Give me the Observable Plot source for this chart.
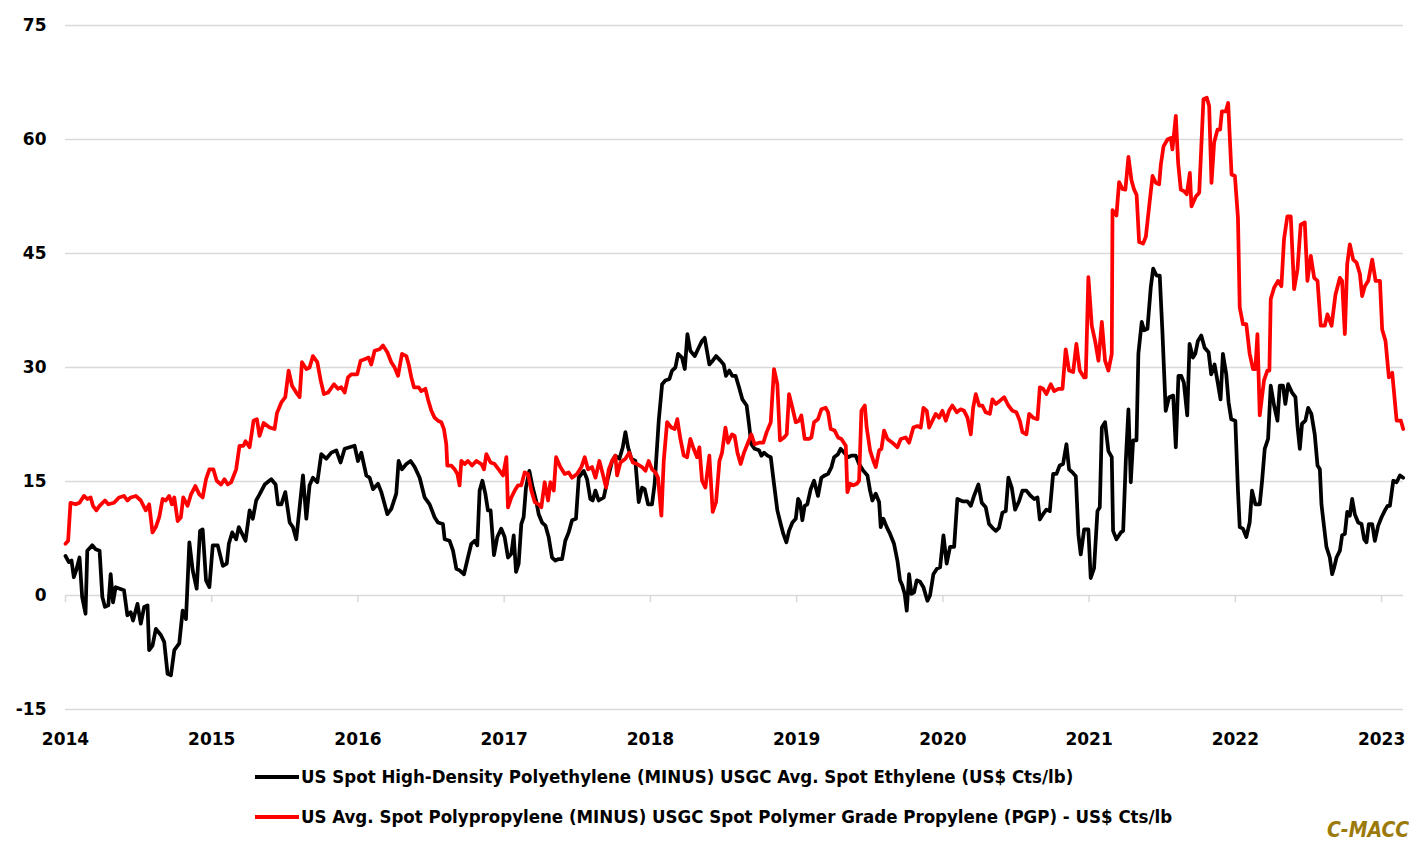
<!DOCTYPE html>
<html>
<head>
<meta charset="utf-8">
<script src="https://cdn.jsdelivr.net/npm/d3@7"></script>
<script src="https://cdn.jsdelivr.net/npm/@observablehq/plot@0.6"></script>
<style>
  html, body { margin: 0; padding: 0; background: #fff; }
  body { width: 1425px; height: 849px; position: relative; overflow: hidden; }
  #chart { position: absolute; left: 0; top: 0; }
  .leg { position: absolute; left: 255px; display: flex; align-items: center; white-space: nowrap;
         font-family: "Liberation Sans Narrow", "DejaVu Sans Condensed", sans-serif; font-weight: bold;
         font-size: 18.5px; color: #000; }
  .sw { display: inline-block; width: 44px; height: 4px; margin-right: 2px; }
  #src { position: absolute; left: 1327px; top: 818px; font-family: "Liberation Sans Narrow", "DejaVu Sans Condensed", sans-serif;
         font-style: italic; font-weight: bold; font-size: 21px; color: #9C7A0A; }
</style>
</head>
<body>
<div id="chart"></div>
<div id="legend"></div>
<div id="src"></div>
<script>
const seriesNames = [
  "US Spot High-Density Polyethylene (MINUS) USGC Avg. Spot Ethylene (US$ Cts/lb)",
  "US Avg. Spot Polypropylene (MINUS) USGC Spot Polymer Grade Propylene (PGP) - US$ Cts/lb"
];
const seriesColors = ["#000000", "#ff0000"];
const sourceLabel = "C-MACC";
const xTicks = [2014, 2015, 2016, 2017, 2018, 2019, 2020, 2021, 2022, 2023];
const yTicks = [-15, 0, 15, 30, 45, 60, 75];

// [decimal year, US cts/lb]
const hdpeSpread = [
[2014.000,5.2],[2014.023,4.4],[2014.041,4.6],[2014.057,2.4],[2014.073,3.3],[2014.096,5.0],[2014.114,-0.2],[2014.137,-2.4],
[2014.149,5.9],[2014.183,6.6],[2014.206,6.1],[2014.233,5.9],[2014.252,-0.2],[2014.270,-1.5],[2014.293,-1.3],[2014.309,2.8],
[2014.325,-0.9],[2014.343,1.1],[2014.371,0.9],[2014.400,0.7],[2014.423,-2.6],[2014.446,-2.2],[2014.462,-3.3],[2014.492,-1.1],
[2014.515,-3.7],[2014.538,-1.5],[2014.561,-1.3],[2014.572,-7.2],[2014.595,-6.6],[2014.618,-4.4],[2014.652,-5.2],[2014.675,-6.1],
[2014.698,-10.3],[2014.721,-10.5],[2014.744,-7.2],[2014.778,-6.3],[2014.801,-2.0],[2014.824,-3.1],[2014.847,7.0],[2014.870,3.3],
[2014.897,0.9],[2014.920,8.5],[2014.938,8.7],[2014.961,2.0],[2014.984,1.1],[2015.007,6.6],[2015.041,6.6],[2015.076,3.9],
[2015.103,4.2],[2015.117,6.8],[2015.140,8.3],[2015.167,7.4],[2015.185,9.0],[2015.208,8.1],[2015.231,7.2],[2015.259,11.2],
[2015.281,10.1],[2015.304,12.5],[2015.327,13.3],[2015.362,14.6],[2015.407,15.3],[2015.437,14.6],[2015.453,12.0],[2015.476,12.0],
[2015.503,13.6],[2015.533,9.6],[2015.555,9.0],[2015.578,7.4],[2015.601,11.6],[2015.624,15.8],[2015.647,10.1],[2015.669,14.5],
[2015.692,15.5],[2015.722,14.9],[2015.749,18.6],[2015.783,18.0],[2015.818,18.8],[2015.852,19.1],[2015.881,17.5],[2015.909,19.3],
[2015.943,19.5],[2015.977,19.7],[2016.000,17.7],[2016.023,18.8],[2016.057,15.8],[2016.080,15.5],[2016.103,14.0],[2016.137,14.7],
[2016.160,13.6],[2016.201,10.7],[2016.228,11.4],[2016.262,13.4],[2016.278,17.7],[2016.301,16.6],[2016.331,17.3],[2016.360,17.7],
[2016.388,16.9],[2016.422,15.5],[2016.456,12.9],[2016.490,12.0],[2016.524,10.3],[2016.547,9.6],[2016.581,9.4],[2016.593,7.4],
[2016.627,7.2],[2016.650,5.9],[2016.673,3.5],[2016.695,3.3],[2016.725,2.8],[2016.752,5.0],[2016.775,6.8],[2016.798,7.2],
[2016.816,6.6],[2016.832,13.8],[2016.851,15.1],[2016.871,13.4],[2016.889,11.2],[2016.907,11.2],[2016.930,5.3],[2016.953,7.7],
[2016.980,8.8],[2017.003,7.7],[2017.026,5.0],[2017.049,5.5],[2017.065,7.9],[2017.081,3.1],[2017.099,4.2],[2017.117,9.4],
[2017.133,10.3],[2017.149,14.2],[2017.172,16.4],[2017.195,14.2],[2017.218,12.5],[2017.236,10.7],[2017.259,9.6],[2017.282,9.2],
[2017.304,7.7],[2017.327,5.0],[2017.350,4.6],[2017.373,4.8],[2017.396,4.8],[2017.418,7.2],[2017.441,8.3],[2017.464,9.9],
[2017.491,10.1],[2017.510,15.5],[2017.544,16.4],[2017.567,15.3],[2017.589,12.7],[2017.605,12.5],[2017.624,13.8],[2017.646,12.5],
[2017.681,12.9],[2017.710,15.5],[2017.738,17.7],[2017.760,18.4],[2017.788,18.0],[2017.811,19.5],[2017.829,21.5],[2017.847,19.5],
[2017.870,18.0],[2017.897,17.7],[2017.920,12.3],[2017.943,14.2],[2017.961,14.0],[2017.984,12.0],[2018.011,12.0],[2018.029,14.7],
[2018.057,23.0],[2018.080,27.8],[2018.102,28.3],[2018.130,28.5],[2018.148,29.6],[2018.171,30.0],[2018.189,31.8],[2018.216,31.3],
[2018.235,29.8],[2018.253,34.4],[2018.273,32.2],[2018.303,31.5],[2018.330,32.6],[2018.353,33.5],[2018.371,33.9],[2018.403,30.4],
[2018.426,30.9],[2018.449,31.5],[2018.479,30.9],[2018.501,30.4],[2018.517,28.9],[2018.540,29.6],[2018.560,28.9],[2018.583,28.9],
[2018.606,27.4],[2018.629,25.8],[2018.658,25.0],[2018.674,22.6],[2018.690,19.9],[2018.713,19.3],[2018.743,19.1],[2018.759,18.4],
[2018.777,18.8],[2018.800,18.4],[2018.823,18.2],[2018.845,14.7],[2018.868,11.2],[2018.891,9.4],[2018.909,8.1],[2018.930,7.0],
[2018.948,8.5],[2018.971,9.6],[2018.994,10.1],[2019.010,12.7],[2019.023,12.3],[2019.039,9.9],[2019.055,11.8],[2019.073,12.0],
[2019.096,14.0],[2019.119,15.1],[2019.146,13.1],[2019.169,15.5],[2019.192,15.8],[2019.215,16.0],[2019.238,16.9],[2019.256,18.2],
[2019.283,18.6],[2019.301,19.3],[2019.324,18.8],[2019.352,18.2],[2019.374,18.4],[2019.404,18.4],[2019.427,17.3],[2019.456,16.4],
[2019.484,15.8],[2019.502,13.8],[2019.518,12.5],[2019.541,13.4],[2019.564,12.3],[2019.575,9.0],[2019.593,10.1],[2019.616,9.0],
[2019.639,8.1],[2019.666,6.8],[2019.689,4.6],[2019.707,2.0],[2019.723,1.3],[2019.739,0.2],[2019.753,-2.0],[2019.769,2.8],
[2019.785,0.2],[2019.803,0.4],[2019.821,2.0],[2019.844,1.8],[2019.867,1.1],[2019.894,-0.7],[2019.912,0.0],[2019.935,2.8],
[2019.958,3.5],[2019.981,3.7],[2020.004,7.9],[2020.026,4.2],[2020.049,6.4],[2020.077,6.4],[2020.099,12.7],[2020.122,12.5],
[2020.134,12.4],[2020.168,12.4],[2020.191,11.8],[2020.213,13.1],[2020.243,14.6],[2020.266,12.2],[2020.293,11.6],[2020.316,9.4],
[2020.339,8.9],[2020.362,8.5],[2020.384,8.9],[2020.407,10.9],[2020.430,11.1],[2020.448,15.5],[2020.471,14.2],[2020.494,11.3],
[2020.521,12.4],[2020.544,13.8],[2020.571,13.8],[2020.601,13.1],[2020.624,12.7],[2020.647,12.9],[2020.663,10.0],[2020.685,10.7],
[2020.708,11.3],[2020.731,11.1],[2020.754,16.0],[2020.777,16.0],[2020.799,17.1],[2020.822,17.3],[2020.845,19.9],[2020.863,16.6],
[2020.886,16.2],[2020.909,15.7],[2020.927,8.0],[2020.943,5.4],[2020.966,8.7],[2020.995,8.7],[2021.011,2.3],[2021.034,3.6],
[2021.057,11.1],[2021.073,11.6],[2021.087,22.1],[2021.109,22.8],[2021.132,19.0],[2021.155,18.2],[2021.164,8.5],[2021.187,7.4],
[2021.217,8.3],[2021.233,8.5],[2021.251,17.7],[2021.269,24.5],[2021.285,14.9],[2021.301,20.4],[2021.324,20.4],[2021.337,31.8],
[2021.360,36.0],[2021.376,34.9],[2021.399,35.1],[2021.422,40.6],[2021.438,43.0],[2021.461,42.1],[2021.483,42.1],[2021.502,34.4],
[2021.524,24.3],[2021.547,26.1],[2021.575,26.3],[2021.593,19.5],[2021.611,28.9],[2021.630,28.9],[2021.648,28.0],[2021.671,23.7],
[2021.687,33.1],[2021.710,31.3],[2021.726,31.8],[2021.744,33.5],[2021.767,34.2],[2021.790,32.6],[2021.817,32.0],[2021.835,29.1],
[2021.858,30.4],[2021.877,28.3],[2021.899,25.8],[2021.915,31.8],[2021.938,29.1],[2021.954,25.4],[2021.972,23.2],[2022.000,23.0],
[2022.018,13.8],[2022.030,9.0],[2022.052,8.8],[2022.075,7.7],[2022.098,9.6],[2022.114,13.8],[2022.137,12.0],[2022.167,12.0],
[2022.183,15.1],[2022.201,19.3],[2022.224,20.6],[2022.242,27.6],[2022.265,25.0],[2022.288,23.0],[2022.304,27.6],[2022.326,27.6],
[2022.342,25.2],[2022.361,27.8],[2022.388,26.7],[2022.411,26.1],[2022.425,22.3],[2022.441,19.3],[2022.456,22.6],[2022.479,23.0],
[2022.498,24.7],[2022.520,23.9],[2022.543,21.2],[2022.562,17.1],[2022.578,16.6],[2022.589,12.0],[2022.607,9.0],[2022.623,6.4],
[2022.646,5.0],[2022.662,2.8],[2022.676,3.7],[2022.692,5.0],[2022.715,5.9],[2022.730,7.9],[2022.749,8.1],[2022.765,11.0],
[2022.783,10.5],[2022.799,12.7],[2022.817,10.7],[2022.840,9.6],[2022.863,9.4],[2022.881,7.4],[2022.897,7.0],[2022.913,9.4],
[2022.936,9.4],[2022.954,7.2],[2022.977,9.2],[2023.000,10.3],[2023.023,11.2],[2023.041,11.8],[2023.057,11.8],[2023.080,15.1],
[2023.103,14.9],[2023.126,15.8],[2023.148,15.5]
];

const ppSpread = [
[2014.000,6.8],[2014.018,7.2],[2014.034,12.2],[2014.069,12.0],[2014.096,12.2],[2014.126,13.1],[2014.149,12.7],[2014.172,12.9],
[2014.188,11.8],[2014.211,11.2],[2014.233,11.8],[2014.270,12.5],[2014.293,12.0],[2014.332,12.2],[2014.366,12.9],[2014.400,13.1],
[2014.423,12.5],[2014.446,12.9],[2014.481,13.1],[2014.515,12.5],[2014.549,11.2],[2014.572,12.0],[2014.595,8.3],[2014.618,9.0],
[2014.641,10.3],[2014.664,12.7],[2014.686,12.5],[2014.709,13.1],[2014.728,12.0],[2014.744,12.9],[2014.767,9.8],[2014.789,10.3],
[2014.805,12.9],[2014.835,11.8],[2014.858,13.3],[2014.888,14.4],[2014.915,13.3],[2014.938,12.9],[2014.961,15.3],[2014.984,16.6],
[2015.011,16.6],[2015.034,15.1],[2015.064,14.6],[2015.087,15.3],[2015.110,14.6],[2015.133,14.9],[2015.167,16.6],[2015.190,19.7],
[2015.217,19.7],[2015.231,20.3],[2015.259,19.5],[2015.286,23.0],[2015.309,23.2],[2015.327,21.0],[2015.355,22.7],[2015.396,22.1],
[2015.430,21.9],[2015.446,24.0],[2015.476,25.4],[2015.503,26.1],[2015.526,29.6],[2015.549,27.6],[2015.578,26.7],[2015.601,26.1],
[2015.617,30.7],[2015.647,29.8],[2015.669,30.0],[2015.692,31.5],[2015.722,30.7],[2015.745,28.3],[2015.767,26.5],[2015.795,26.7],
[2015.836,27.8],[2015.863,27.2],[2015.886,27.4],[2015.909,26.7],[2015.932,28.7],[2015.954,29.1],[2015.995,29.1],[2016.018,30.9],
[2016.046,31.1],[2016.073,31.3],[2016.091,30.4],[2016.114,32.2],[2016.148,32.4],[2016.171,32.9],[2016.201,32.0],[2016.228,30.7],
[2016.251,30.0],[2016.274,28.9],[2016.301,31.8],[2016.331,31.5],[2016.347,30.4],[2016.365,28.7],[2016.383,27.4],[2016.415,27.4],
[2016.433,26.9],[2016.461,27.2],[2016.479,25.8],[2016.502,24.3],[2016.524,23.4],[2016.547,23.0],[2016.570,22.8],[2016.588,21.9],
[2016.604,19.9],[2016.611,17.1],[2016.638,17.1],[2016.661,16.6],[2016.680,16.0],[2016.695,14.5],[2016.707,17.7],[2016.730,17.3],
[2016.752,17.7],[2016.780,17.1],[2016.809,17.7],[2016.844,17.3],[2016.862,16.6],[2016.878,18.6],[2016.907,17.5],[2016.935,17.3],
[2016.962,16.6],[2016.992,15.8],[2017.015,18.2],[2017.026,11.6],[2017.049,12.9],[2017.072,13.8],[2017.095,14.5],[2017.117,14.5],
[2017.140,16.2],[2017.163,16.0],[2017.186,13.8],[2017.209,12.3],[2017.236,12.0],[2017.254,11.6],[2017.277,14.9],[2017.300,12.5],
[2017.316,14.9],[2017.339,13.8],[2017.355,18.2],[2017.384,16.9],[2017.414,16.0],[2017.441,16.2],[2017.464,15.5],[2017.498,16.0],
[2017.528,16.9],[2017.551,18.2],[2017.573,16.6],[2017.601,16.9],[2017.624,15.5],[2017.651,17.7],[2017.674,16.0],[2017.697,14.2],
[2017.715,16.6],[2017.738,17.7],[2017.760,18.4],[2017.772,15.8],[2017.795,17.5],[2017.829,18.0],[2017.856,18.8],[2017.879,17.5],
[2017.909,17.3],[2017.943,16.9],[2017.966,16.4],[2017.988,17.7],[2018.011,16.6],[2018.034,16.2],[2018.052,15.5],[2018.075,10.5],
[2018.091,17.7],[2018.114,22.8],[2018.143,22.1],[2018.166,21.9],[2018.184,23.2],[2018.205,20.6],[2018.228,18.4],[2018.251,18.2],
[2018.273,20.6],[2018.296,19.3],[2018.319,18.2],[2018.335,19.5],[2018.353,15.1],[2018.376,14.2],[2018.403,18.4],[2018.426,11.0],
[2018.449,12.3],[2018.472,17.7],[2018.490,18.8],[2018.513,22.1],[2018.531,20.1],[2018.558,21.2],[2018.576,21.0],[2018.595,18.8],
[2018.617,17.3],[2018.640,18.8],[2018.663,19.9],[2018.690,21.2],[2018.713,19.9],[2018.743,20.1],[2018.772,20.1],[2018.795,21.5],
[2018.823,22.8],[2018.845,29.8],[2018.868,27.8],[2018.886,20.4],[2018.914,20.8],[2018.932,21.2],[2018.948,26.5],[2018.971,24.7],
[2018.994,22.8],[2019.016,23.0],[2019.032,23.7],[2019.055,20.6],[2019.085,20.6],[2019.101,20.8],[2019.119,22.8],[2019.146,23.2],
[2019.169,24.5],[2019.199,24.7],[2019.215,24.1],[2019.233,21.9],[2019.260,21.7],[2019.283,20.8],[2019.306,20.6],[2019.336,19.7],
[2019.347,13.6],[2019.365,14.7],[2019.388,14.5],[2019.411,14.7],[2019.427,15.1],[2019.443,24.3],[2019.466,25.0],[2019.479,22.1],
[2019.502,19.1],[2019.525,17.7],[2019.541,16.9],[2019.564,19.1],[2019.580,19.3],[2019.598,21.7],[2019.621,20.6],[2019.655,20.1],
[2019.689,19.5],[2019.712,20.6],[2019.746,20.8],[2019.769,20.1],[2019.798,22.1],[2019.826,22.3],[2019.849,22.1],[2019.867,24.7],
[2019.890,24.3],[2019.906,22.1],[2019.928,23.0],[2019.951,23.9],[2019.974,23.4],[2019.997,24.3],[2020.020,23.0],[2020.042,24.3],
[2020.065,25.0],[2020.095,24.1],[2020.122,24.5],[2020.145,24.3],[2020.168,23.4],[2020.191,21.2],[2020.207,24.7],[2020.225,26.5],
[2020.248,25.0],[2020.270,25.0],[2020.293,24.1],[2020.321,23.9],[2020.339,25.8],[2020.362,25.2],[2020.389,25.6],[2020.419,26.1],
[2020.448,25.0],[2020.476,24.3],[2020.503,24.1],[2020.526,23.0],[2020.544,21.5],[2020.571,21.2],[2020.590,23.9],[2020.617,23.4],
[2020.647,23.2],[2020.663,27.4],[2020.685,27.2],[2020.708,26.5],[2020.738,27.8],[2020.761,26.9],[2020.790,27.2],[2020.818,27.2],
[2020.840,32.4],[2020.863,29.6],[2020.891,29.4],[2020.913,33.1],[2020.936,29.6],[2020.966,28.7],[2020.977,28.7],[2020.995,41.9],
[2021.018,35.5],[2021.041,33.5],[2021.064,30.9],[2021.087,36.0],[2021.109,30.9],[2021.132,29.6],[2021.155,31.8],[2021.160,50.7],
[2021.187,50.0],[2021.205,54.4],[2021.228,53.5],[2021.248,53.4],[2021.269,57.7],[2021.290,54.6],[2021.308,53.4],[2021.325,52.7],
[2021.342,46.5],[2021.369,46.3],[2021.388,47.2],[2021.410,51.1],[2021.434,55.2],[2021.456,54.3],[2021.479,54.1],[2021.490,56.6],
[2021.509,59.1],[2021.536,60.0],[2021.559,60.2],[2021.570,58.7],[2021.593,63.1],[2021.609,56.9],[2021.627,53.4],[2021.650,53.2],
[2021.668,52.8],[2021.689,55.6],[2021.700,51.2],[2021.730,52.5],[2021.753,53.0],[2021.767,58.9],[2021.782,65.3],[2021.805,65.5],
[2021.821,64.4],[2021.837,54.3],[2021.855,59.6],[2021.878,61.3],[2021.896,61.3],[2021.908,63.7],[2021.935,63.7],[2021.951,64.8],
[2021.974,55.4],[2021.997,55.2],[2022.018,49.7],[2022.030,37.9],[2022.052,35.7],[2022.075,35.7],[2022.098,31.8],[2022.121,29.8],
[2022.137,29.8],[2022.151,34.4],[2022.167,23.7],[2022.196,28.3],[2022.219,29.6],[2022.233,29.6],[2022.242,39.0],[2022.265,40.5],
[2022.292,41.4],[2022.315,40.7],[2022.333,46.9],[2022.356,49.9],[2022.379,49.9],[2022.402,40.3],[2022.425,42.9],[2022.447,48.8],
[2022.475,49.1],[2022.493,41.4],[2022.516,44.7],[2022.539,41.8],[2022.562,41.4],[2022.584,35.5],[2022.612,35.5],[2022.630,37.0],
[2022.658,35.5],[2022.685,39.6],[2022.715,41.8],[2022.730,41.4],[2022.749,34.4],[2022.765,43.6],[2022.783,46.2],[2022.806,44.2],
[2022.829,43.8],[2022.852,42.3],[2022.867,39.4],[2022.886,40.7],[2022.909,41.4],[2022.936,44.2],[2022.959,41.4],[2022.989,41.4],
[2023.004,35.0],[2023.027,33.5],[2023.050,28.7],[2023.073,29.3],[2023.103,23.0],[2023.132,23.0],[2023.148,21.9]
];

const toRows = (arr, name) => arr.map(([t, v]) => ({t, v, series: name}));
const hdpeRows = toRows(hdpeSpread, seriesNames[0]);
const ppRows = toRows(ppSpread, seriesNames[1]);

const axisFont = {fontFamily: "'DejaVu Sans', Verdana, sans-serif", fontWeight: "bold", fontSize: 17, fill: "#000"};

const chart = Plot.plot({
  width: 1425,
  height: 752,
  marginLeft: 65,
  marginRight: 22,
  marginTop: 25,
  marginBottom: 43,
  style: {background: "#fff", fontFamily: "'DejaVu Sans', Verdana, sans-serif"},
  x: {type: "linear", domain: [2014, 2023.15]},
  y: {domain: [-15, 75]},
  marks: [
    Plot.ruleY(yTicks, {stroke: "#d9d9d9", strokeWidth: 1.5}),
    Plot.ruleX(xTicks, {x: d => d, y1: 0, y2: -0.95, stroke: "#d9d9d9", strokeWidth: 1.5}),
    Plot.axisX({ticks: xTicks, tickSize: 0, tickPadding: 23, tickFormat: d => String(d), label: null, ...axisFont}),
    Plot.axisY({ticks: yTicks, tickSize: 0, tickPadding: 19, tickFormat: d => String(d), label: null, ...axisFont}),
    Plot.line(hdpeRows, {x: "t", y: "v", stroke: seriesColors[0], strokeWidth: 3.75, strokeLinejoin: "round", strokeLinecap: "round"}),
    Plot.line(ppRows, {x: "t", y: "v", stroke: seriesColors[1], strokeWidth: 3.75, strokeLinejoin: "round", strokeLinecap: "round"})
  ]
});
document.getElementById("chart").appendChild(chart);

const legend = document.getElementById("legend");
const legendTops = [766, 806];
seriesNames.forEach((name, i) => {
  const row = document.createElement("div");
  row.className = "leg";
  row.style.top = legendTops[i] + "px";
  const sw = document.createElement("span");
  sw.className = "sw";
  sw.style.background = seriesColors[i];
  row.appendChild(sw);
  row.appendChild(document.createTextNode(name));
  legend.appendChild(row);
});
document.getElementById("src").textContent = sourceLabel;
</script>
</body>
</html>
